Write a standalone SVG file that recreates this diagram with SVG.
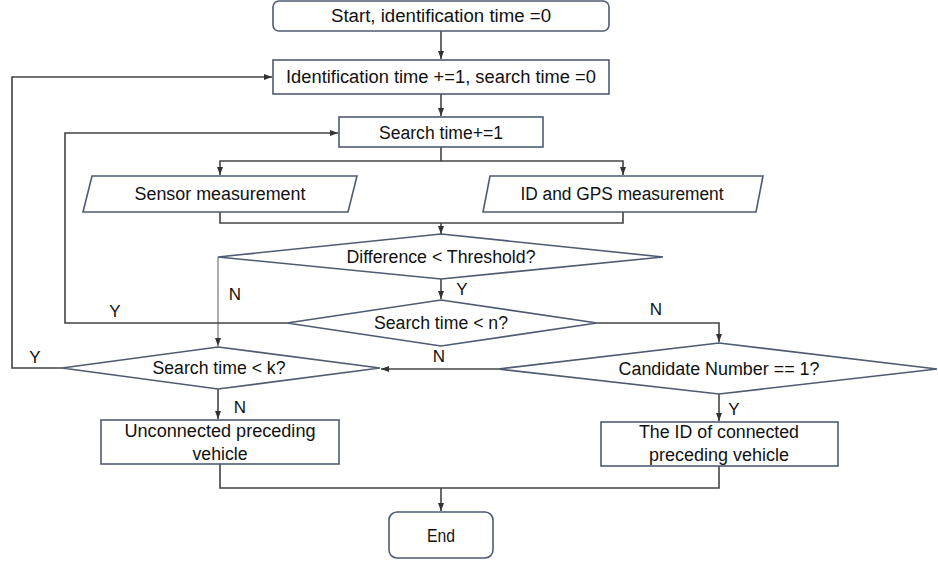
<svg xmlns="http://www.w3.org/2000/svg" width="938" height="563" viewBox="0 0 938 563">
<defs>
<marker id="arr" viewBox="0 0 8 8" refX="8" refY="4" markerWidth="8" markerHeight="8" markerUnits="userSpaceOnUse" orient="auto">
<path d="M0,1 L8,4 L0,7 Z" fill="#333"/>
</marker>
<style>
.shape{fill:#fff;stroke:#4f5b73;stroke-width:1.6}
.conn{fill:none;stroke:#444;stroke-width:1.6}
.thin{fill:none;stroke:#777;stroke-width:1.2}
.t{font-family:"Liberation Sans",Arial,sans-serif;font-size:18px;fill:#111;text-anchor:middle}
.lbl{font-family:"Liberation Sans",Arial,sans-serif;font-size:17px;fill:#111;text-anchor:middle}
</style>
</defs>
<rect width="938" height="563" fill="#fff"/>
<g id="connectors">
<path class="conn" d="M441,31 V59" marker-end="url(#arr)"/>
<path class="conn" d="M441,94 V116" marker-end="url(#arr)"/>
<path class="conn" d="M441,147 V161 H220 V175" marker-end="url(#arr)"/>
<path class="conn" d="M441,161 H623 V175" marker-end="url(#arr)"/>
<path class="conn" d="M220,212 V223 H623 V212"/>
<path class="conn" d="M441,223 V234" marker-end="url(#arr)"/>
<path class="thin" d="M218,257 V346" marker-end="url(#arr)"/>
<path class="conn" d="M441,279 V299" marker-end="url(#arr)"/>
<path class="conn" d="M287,323 H65 V133 H338" marker-end="url(#arr)"/>
<path class="conn" d="M597,323 H719 V342" marker-end="url(#arr)"/>
<path class="conn" d="M498,369 H381" marker-end="url(#arr)"/>
<path class="conn" d="M62,368 H12 V77 H272" marker-end="url(#arr)"/>
<path class="conn" d="M218,389 V419" marker-end="url(#arr)"/>
<path class="conn" d="M719,394 V421" marker-end="url(#arr)"/>
<path class="conn" d="M220,464 V488 H719 V466"/>
<path class="conn" d="M441,488 V511" marker-end="url(#arr)"/>
<text class="lbl" x="235" y="300">N</text>
<text class="lbl" x="115" y="317">Y</text>
<text class="lbl" x="35" y="363">Y</text>
<text class="lbl" x="462" y="295">Y</text>
<text class="lbl" x="656" y="315">N</text>
<text class="lbl" x="439" y="362">N</text>
<text class="lbl" x="240" y="413">N</text>
<text class="lbl" x="734" y="415">Y</text>
</g>
<g id="start">
<rect class="shape" x="273" y="1" width="336" height="30" rx="6"/>
<text class="t" x="441" y="22" textLength="220" lengthAdjust="spacingAndGlyphs">Start, identification time =0</text>
</g>
<g id="ident">
<rect class="shape" x="273" y="60" width="336" height="34"/>
<text class="t" x="441" y="83" textLength="310" lengthAdjust="spacingAndGlyphs">Identification time +=1, search time =0</text>
</g>
<g id="search">
<rect class="shape" x="339" y="117" width="204" height="30"/>
<text class="t" x="441" y="139" textLength="124" lengthAdjust="spacingAndGlyphs">Search time+=1</text>
</g>
<g id="sensor">
<polygon class="shape" points="92,176 357,176 348,212 83,212"/>
<text class="t" x="220" y="200" textLength="171" lengthAdjust="spacingAndGlyphs">Sensor measurement</text>
</g>
<g id="idgps">
<polygon class="shape" points="490,176 763,176 756,212 483,212"/>
<text class="t" x="622" y="200" textLength="203" lengthAdjust="spacingAndGlyphs">ID and GPS measurement</text>
</g>
<g id="diff">
<polygon class="shape" points="441,234 663,257 441,279 218,257"/>
<text class="t" x="441" y="263" textLength="189" lengthAdjust="spacingAndGlyphs">Difference &lt; Threshold?</text>
</g>
<g id="searchn">
<polygon class="shape" points="441,300 597,323 441,346 287,323"/>
<text class="t" x="441" y="329" textLength="134" lengthAdjust="spacingAndGlyphs">Search time &lt; n?</text>
</g>
<g id="searchk">
<polygon class="shape" points="218,347 380,368 218,389 62,368"/>
<text class="t" x="219" y="374" textLength="133" lengthAdjust="spacingAndGlyphs">Search time &lt; k?</text>
</g>
<g id="candidate">
<polygon class="shape" points="719,343 937,369 719,394 498,369"/>
<text class="t" x="719" y="375" textLength="201" lengthAdjust="spacingAndGlyphs">Candidate Number == 1?</text>
</g>
<g id="unconnected">
<rect class="shape" x="101" y="420" width="238" height="44"/>
<text class="t" x="220" y="437" textLength="191" lengthAdjust="spacingAndGlyphs">Unconnected preceding</text>
<text class="t" x="220" y="460" textLength="55" lengthAdjust="spacingAndGlyphs">vehicle</text>
</g>
<g id="connected">
<rect class="shape" x="601" y="422" width="237" height="44"/>
<text class="t" x="719" y="438" textLength="160" lengthAdjust="spacingAndGlyphs">The ID of connected</text>
<text class="t" x="719" y="461" textLength="140" lengthAdjust="spacingAndGlyphs">preceding vehicle</text>
</g>
<g id="end">
<rect class="shape" x="389" y="512" width="104" height="46" rx="8"/>
<text class="t" x="441" y="542" textLength="28" lengthAdjust="spacingAndGlyphs">End</text>
</g>
</svg>
